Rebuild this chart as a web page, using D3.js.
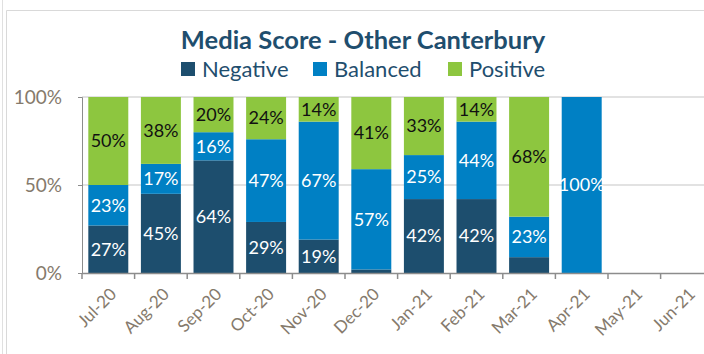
<!DOCTYPE html>
<html>
<head>
<meta charset="utf-8">
<script src="https://cdn.jsdelivr.net/npm/d3@7"></script>
<style>
  html, body { margin: 0; padding: 0; background: #fff; }
  svg { display: block; font-family: Lato, "Open Sans", sans-serif; }
</style>
</head>
<body>
<svg id="chart" width="704" height="354"></svg>
<script>
// Monthly media score shares (percent)
const months = ["Jul-20","Aug-20","Sep-20","Oct-20","Nov-20","Dec-20","Jan-21","Feb-21","Mar-21","Apr-21","May-21","Jun-21"];
const negative = [27, 45, 64, 29, 19, 2, 42, 42, 9, 0, 0, 0];
const balanced = [23, 17, 16, 47, 67, 57, 25, 44, 23, 100, 0, 0];
const positive = [50, 38, 20, 24, 14, 41, 33, 14, 68, 0, 0, 0];
const seriesNames = ["Negative", "Balanced", "Positive"];
const yTicks = [0, 50, 100];

const colors = { Negative: "#1d4e6e", Balanced: "#0080c4", Positive: "#8dc63f" };
const labelColors = { Negative: "#ffffff", Balanced: "#ffffff", Positive: "#111111" };

const svg = d3.select("#chart");

// outer frame
svg.append("line").attr("x1", 2.5).attr("x2", 2.5).attr("y1", 0).attr("y2", 354)
  .attr("stroke", "#e0e0e0").attr("stroke-width", 1);
svg.append("path").attr("d", "M6.5,354V10.5H704")
  .attr("fill", "none").attr("stroke", "#d9d9d9").attr("stroke-width", 1);

const rows = months.map((m, i) => ({ month: m, Negative: negative[i], Balanced: balanced[i], Positive: positive[i] }));
const stacked = d3.stack().keys(seriesNames)(rows);

const x = d3.scaleBand().domain(months).range([82, 713.2]).paddingInner(0.24).paddingOuter(0.12);
const y = d3.scaleLinear().domain([0, 100]).range([273, 97]);

// gridlines
svg.append("g").selectAll("line").data(yTicks.filter(t => t > 0)).join("line")
  .attr("x1", 82).attr("x2", 704)
  .attr("y1", d => y(d)).attr("y2", d => y(d))
  .attr("stroke", "#d9d9d9").attr("stroke-width", 1.5);

// bars
const layers = svg.append("g").selectAll("g").data(stacked).join("g")
  .attr("fill", d => colors[d.key]);
layers.selectAll("rect").data(d => d.map(p => ({ key: d.key, p }))).join("rect")
  .attr("x", d => x(d.p.data.month))
  .attr("width", x.bandwidth())
  .attr("y", d => y(d.p[1]))
  .attr("height", d => y(d.p[0]) - y(d.p[1]));

// value labels
const labels = [];
stacked.forEach(s => s.forEach(p => {
  const v = p.data[s.key];
  if (v >= 10) labels.push({ key: s.key, v, month: p.data.month, mid: (p[0] + p[1]) / 2 });
}));
svg.append("g").selectAll("text").data(labels).join("text")
  .attr("x", d => x(d.month) + x.bandwidth() / 2)
  .attr("y", d => y(d.mid))
  .attr("dy", "0.35em")
  .attr("text-anchor", "middle")
  .attr("font-size", 18)
  .attr("fill", d => labelColors[d.key])
  .text(d => d.v + "%");

// y axis
const yAxis = svg.append("g").attr("transform", "translate(82,0)")
  .call(d3.axisLeft(y).tickValues(yTicks).tickSize(4).tickPadding(16).tickFormat(d => d + "%"));
yAxis.select(".domain").attr("stroke", "#8c8c8c").attr("d", "M-4,97.5H0.5V273.5H-4");
yAxis.selectAll(".tick line").attr("stroke", "#8c8c8c");
yAxis.selectAll(".tick text").attr("font-size", 19).attr("fill", "#857a6c")
  .attr("font-family", "Lato, sans-serif");

// x axis with ticks at band edges
const xg = svg.append("g").attr("transform", "translate(0,273)");
xg.append("line").attr("x1", 82).attr("x2", 704).attr("y1", 0.5).attr("y2", 0.5)
  .attr("stroke", "#8c8c8c").attr("stroke-width", 1.5);
const edges = months.map(m => x(m) - x.step() * x.paddingInner() / 2).concat([713.2]);
xg.selectAll(".edge").data(edges).join("line").attr("class", "edge")
  .attr("x1", d => d).attr("x2", d => d).attr("y1", 0).attr("y2", 6)
  .attr("stroke", "#8c8c8c").attr("stroke-width", 1.5);
xg.selectAll(".lab").data(months).join("text").attr("class", "lab")
  .attr("transform", m => `translate(${x(m) + x.bandwidth() / 2 + 5},${18}) rotate(-45)`)
  .attr("text-anchor", "end")
  .attr("dy", "0.35em")
  .attr("font-size", 17)
  .attr("fill", "#857a6c")
  .text(m => m);

// title
svg.append("text").attr("x", 363).attr("y", 49).attr("text-anchor", "middle")
  .attr("font-size", 25.5).attr("font-weight", "bold").attr("fill", "#1f4e6e")
  .text("Media Score - Other Canterbury");

// legend
const legendPos = [181, 313, 448];
const lg = svg.append("g").selectAll("g").data(seriesNames).join("g")
  .attr("transform", (d, i) => `translate(${legendPos[i]},62)`);
lg.append("rect").attr("width", 14).attr("height", 14).attr("fill", d => colors[d]);
lg.append("text").attr("x", 21).attr("y", 15).attr("font-size", 22).attr("fill", "#1f4e6e").text(d => d);
</script>
</body>
</html>
